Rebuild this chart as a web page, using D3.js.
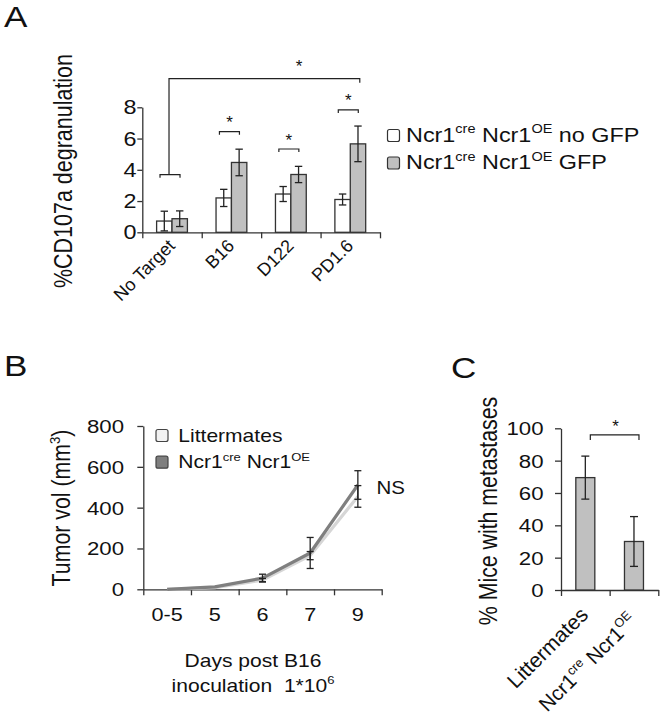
<!DOCTYPE html>
<html><head><meta charset="utf-8">
<script src="https://cdn.jsdelivr.net/npm/d3@7"></script>
<style>
body{margin:0;background:#fff}
svg{display:block}
text{font-family:"Liberation Sans",Arial,sans-serif;fill:#111}
</style>
</head><body><svg id="c" width="660" height="723"></svg>
<script>
// ---------- DATA ----------
// Panel A
const catsA = ["No Target", "B16", "D122", "PD1.6"];
const noGfp = [0.72, 2.2, 2.45, 2.1];
const noGfpErr = [0.63, 0.55, 0.48, 0.35];
const gfp = [0.87, 4.47, 3.7, 5.66];
const gfpErr = [0.5, 0.85, 0.52, 1.14];
const ticksA = [0, 2, 4, 6, 8];
const bracketA = [3.69, 6.44, 5.33, 7.83];      // bracket levels per category
const bigBracketA = 9.83;                        // No Target vs PD1.6
// Panel B
const catsB = ["0-5", "5", "6", "7", "9"];
const litter = [0, 8, 45, 165, 455];
const litterErr = [0, 0, 8, 20, 53];
const ncrOE = [0, 12, 55, 178, 511];
const ncrOEErr = [0, 0, 19, 76, 70];
const ticksB = [0, 200, 400, 600, 800];
// Panel C
const catsC = ["Littermates", "Ncr1cre Ncr1OE"];
const metVals = [69.5, 30];
const metErr = [13.3, 15.4];
const ticksC = [0, 20, 40, 60, 80, 100];
const bracketC = 95.9;

// ---------- HELPERS ----------
const SX = 1.17;
const svg = d3.select("#c");
const INK = "#222";

function rich(g, x, y, parts, fs, anchor, opts) {
  opts = opts || {};
  const sx = opts.sx === undefined ? SX : opts.sx;
  let tr = `translate(${x},${y}) scale(${sx},1)`;
  if (opts.rot) tr += ` rotate(${opts.rot})`;
  const t = g.append("text").attr("transform", tr)
    .attr("font-size", fs).attr("text-anchor", anchor || "start");
  let prevSup = false;
  parts.forEach(p => {
    const sup = p.startsWith("^");
    const s = sup ? p.slice(1) : p;
    const ts = t.append("tspan").text(s);
    if (sup) {
      ts.attr("font-size", fs * 0.62).attr("dy", -fs * 0.42);
    } else if (prevSup) {
      ts.attr("dy", fs * 0.42);
    }
    prevSup = sup;
  });
  return t;
}

function errBar(g, x, y0, y1, cap) {
  g.append("line").attr("x1", x).attr("x2", x).attr("y1", y0).attr("y2", y1);
  g.append("line").attr("x1", x - cap).attr("x2", x + cap).attr("y1", y0).attr("y2", y0);
  g.append("line").attr("x1", x - cap).attr("x2", x + cap).attr("y1", y1).attr("y2", y1);
}

function star(g, x, yCenter, fs) {
  g.append("text").attr("x", x).attr("y", yCenter + fs * 0.62)
    .attr("text-anchor", "middle").attr("font-size", fs).text("*");
}

function styleAxis(sel) {
  sel.selectAll("path,line").attr("stroke", "#333").attr("stroke-width", 1.3);
  sel.selectAll("text").remove();
}

// ---------- PANEL A ----------
const A = svg.append("g");
rich(A, 4, 27, ["A"], 30, "start");
const yA = d3.scaleLinear().domain([0, 8]).range([232.3, 107.3]);
const xA = d3.scaleBand().domain(catsA).range([142.3, 380]).padding(0);
const xAi = d3.scaleLinear().domain([0, catsA.length]).range([142.3, 380]);
const bwA = 15.4;

A.append("g").attr("transform", "translate(142.3,0)")
  .call(d3.axisLeft(yA).tickValues(ticksA).tickSize(5).tickSizeOuter(0).tickFormat(""))
  .call(styleAxis);
A.append("g").attr("transform", "translate(0,232.3)")
  .call(d3.axisBottom(xAi).tickValues(d3.range(catsA.length + 1)).tickSize(6).tickSizeOuter(0).tickFormat(""))
  .call(styleAxis);
ticksA.forEach(v => rich(A, 136.5, yA(v) + 7, [String(v)], 20, "end"));

const cx = c => xA(c) + xA.bandwidth() / 2;
const barsA = A.append("g").attr("stroke", "#333").attr("stroke-width", 1.3);
barsA.selectAll("rect.w").data(catsA).join("rect").attr("class", "w")
  .attr("x", c => cx(c) - bwA).attr("width", bwA)
  .attr("y", (c, i) => yA(noGfp[i])).attr("height", (c, i) => yA(0) - yA(noGfp[i]))
  .attr("fill", "#fff");
barsA.selectAll("rect.g").data(catsA).join("rect").attr("class", "g")
  .attr("x", c => cx(c)).attr("width", bwA)
  .attr("y", (c, i) => yA(gfp[i])).attr("height", (c, i) => yA(0) - yA(gfp[i]))
  .attr("fill", "#c0c0c0");
const ebA = A.append("g").attr("stroke", INK).attr("stroke-width", 1.3);
catsA.forEach((c, i) => {
  errBar(ebA, cx(c) - bwA / 2, yA(noGfp[i] + noGfpErr[i]), yA(noGfp[i] - noGfpErr[i]), 3.7);
  errBar(ebA, cx(c) + bwA / 2, yA(gfp[i] + gfpErr[i]), yA(gfp[i] - gfpErr[i]), 3.7);
});
// brackets
const brA = A.append("g").attr("stroke", INK).attr("stroke-width", 1.2).attr("fill", "none");
catsA.forEach((c, i) => {
  const y = yA(bracketA[i]);
  const x0 = cx(c) - 12, x1 = cx(c) + 8;
  brA.append("path").attr("d", `M${x0},${y + 3}V${y}H${x1}V${y + 3}`);
  if (i > 0) star(A, (x0 + x1) / 2, y - 14, 17);
});
{
  const xs = cx(catsA[0]) - 3, xe = cx(catsA[3]) + 9.5;
  const yb = yA(bigBracketA);
  brA.append("path").attr("d", `M${xs},${yA(bracketA[0])}V${yb}H${xe}V${yb + 4}`);
  star(A, 299, yb - 17, 17);
}
catsA.forEach(c => rich(A, cx(c) + 4, 247, [c], 18, "end", {sx: 1, rot: -45}));
rich(A, 72, 171, ["%CD107a degranulation"], 21.5, "middle", {rot: -90});
// legend A
const lgA = A.append("g");
[["#fff", ["Ncr1", "^cre", " Ncr1", "^OE", " no GFP"]], ["#c0c0c0", ["Ncr1", "^cre", " Ncr1", "^OE", " GFP"]]]
  .forEach((d, i) => {
    lgA.append("rect").attr("x", 387.5).attr("y", 129.5 + i * 27.5).attr("width", 12).attr("height", 12)
      .attr("rx", 2).attr("fill", d[0]).attr("stroke", "#333").attr("stroke-width", 1.2);
    rich(lgA, 406, 141.7 + i * 27.4, d[1], 20, "start");
  });

// ---------- PANEL B ----------
const B = svg.append("g");
rich(B, 4, 375.5, ["B"], 30, "start");
const yB = d3.scaleLinear().domain([0, 800]).range([589.3, 426]);
const xB = d3.scaleBand().domain(catsB).range([143.3, 381.7]).padding(0);
const xBi = d3.scaleLinear().domain([0, catsB.length]).range([143.3, 381.7]);
B.append("g").attr("transform", "translate(143.3,0)")
  .call(d3.axisLeft(yB).tickValues(ticksB).tickSize(6).tickSizeOuter(0).tickFormat(""))
  .call(styleAxis);
B.append("g").attr("transform", "translate(0,589.3)")
  .call(d3.axisBottom(xBi).tickValues(d3.range(catsB.length + 1)).tickSize(6).tickSizeOuter(0).tickFormat(""))
  .call(styleAxis);
ticksB.forEach(v => rich(B, 124, yB(v) + 7, [String(v)], 19, "end"));
const cxB = c => xB(c) + xB.bandwidth() / 2;
catsB.forEach(c => rich(B, cxB(c), 620.7, [c], 18.5, "middle"));
const lineB = d3.line().x((d, i) => cxB(catsB[i])).y(d => yB(d));
B.append("path").datum(litter).attr("d", lineB).attr("fill", "none")
  .attr("stroke", "#d6d6d6").attr("stroke-width", 3.2).attr("stroke-linejoin", "round");
B.append("path").datum(ncrOE).attr("d", lineB).attr("fill", "none")
  .attr("stroke", "#7f7f7f").attr("stroke-width", 3.2).attr("stroke-linejoin", "round");
const ebB = B.append("g").attr("stroke", INK).attr("stroke-width", 1.3);
catsB.forEach((c, i) => {
  if (litterErr[i] > 0) errBar(ebB, cxB(c), yB(litter[i] + litterErr[i]), yB(litter[i] - litterErr[i]), 3.5);
  if (ncrOEErr[i] > 0) errBar(ebB, cxB(c), yB(ncrOE[i] + ncrOEErr[i]), yB(ncrOE[i] - ncrOEErr[i]), 3.5);
});
rich(B, 376.5, 494.3, ["NS"], 17.5, "start");
const lgB = B.append("g");
[["#f2f2f2", ["Littermates"]], ["#7f7f7f", ["Ncr1", "^cre", " Ncr1", "^OE"]]].forEach((d, i) => {
  lgB.append("rect").attr("x", 156).attr("y", 429.5 + i * 26.7).attr("width", 12).attr("height", 12)
    .attr("rx", 2).attr("fill", d[0]).attr("stroke", "#444").attr("stroke-width", 1.2);
  rich(lgB, 178.3, 441.7 + i * 26.6, d[1], 18, "start");
});
rich(B, 70, 508, ["Tumor vol (mm", "^3", ")"], 21.3, "middle", {rot: -90});
rich(B, 253, 667.3, ["Days post B16"], 18, "middle");
rich(B, 253, 691.7, ["inoculation\u00A0\u00A01*10", "^6"], 18, "middle");

// ---------- PANEL C ----------
const C = svg.append("g");
rich(C, 451, 378, ["C"], 30, "start");
const yC = d3.scaleLinear().domain([0, 100]).range([590, 428.3]);
const xC = d3.scaleBand().domain(catsC).range([561, 658.3]).padding(0);
const xCi = d3.scaleLinear().domain([0, catsC.length]).range([561, 658.3]);
C.append("g").attr("transform", "translate(561,0)")
  .call(d3.axisLeft(yC).tickValues(ticksC).tickSize(6).tickSizeOuter(0).tickFormat(""))
  .call(styleAxis);
C.append("g").attr("transform", "translate(0,590)")
  .call(d3.axisBottom(xCi).tickValues(d3.range(catsC.length + 1)).tickSize(6).tickSizeOuter(0).tickFormat(""))
  .call(styleAxis);
ticksC.forEach(v => rich(C, 543.5, yC(v) + 7, [String(v)], 19, "end"));
const cxC = c => xC(c) + xC.bandwidth() / 2;
const bwC = 19;
C.append("g").attr("stroke", "#333").attr("stroke-width", 1.3)
  .selectAll("rect").data(catsC).join("rect")
  .attr("x", c => cxC(c) - bwC / 2).attr("width", bwC)
  .attr("y", (c, i) => yC(metVals[i])).attr("height", (c, i) => yC(0) - yC(metVals[i]))
  .attr("fill", "#c0c0c0");
const ebC = C.append("g").attr("stroke", INK).attr("stroke-width", 1.3);
catsC.forEach((c, i) => errBar(ebC, cxC(c), yC(metVals[i] + metErr[i]), yC(metVals[i] - metErr[i]), 4));
{
  const y = yC(bracketC), x0 = cxC(catsC[0]) + 5, x1 = cxC(catsC[1]) + 5;
  C.append("path").attr("d", `M${x0},${y + 5}V${y}H${x1}V${y + 5}`)
    .attr("stroke", INK).attr("stroke-width", 1.2).attr("fill", "none");
  star(C, (x0 + x1) / 2 + 1, y - 13, 17);
}
rich(C, 497, 511, ["% Mice with metastases"], 21.3, "middle", {rot: -90});
rich(C, cxC(catsC[0]) + 4, 616, ["Littermates"], 21, "end", {sx: 1, rot: -45});
rich(C, cxC(catsC[1]) + 4, 622, ["Ncr1", "^cre", " Ncr1", "^OE"], 20.5, "end", {sx: 1, rot: -45});
</script></body></html>
